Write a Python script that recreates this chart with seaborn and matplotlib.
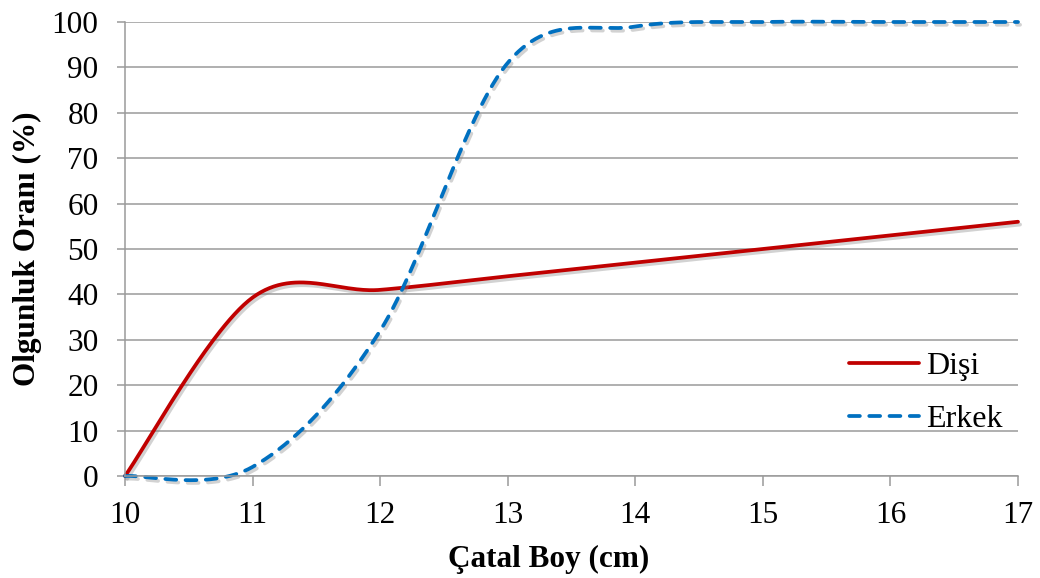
import numpy as np
import pandas as pd
import matplotlib
matplotlib.use("Agg")
import matplotlib.pyplot as plt
import matplotlib.patheffects as pe
import seaborn as sns

# ---- data ----
boy = [10, 11, 12, 13, 14, 15, 16, 17]
disi = [0, 39.3, 41, 44, 47, 50, 53, 56]
erkek = [0, 2.0, 32, 91, 99, 100, 100, 100]
series_names = ["Dişi", "Erkek"]
x_ticks = [10, 11, 12, 13, 14, 15, 16, 17]
y_ticks = [0, 10, 20, 30, 40, 50, 60, 70, 80, 90, 100]


def excel_smooth(x, y, n=60):
    """Excel-style smoothed line (Catmull-Rom Bezier through the points)."""
    p = np.column_stack([x, y]).astype(float)
    m = len(p)
    out = []
    for i in range(m - 1):
        p0 = p[i]
        p3 = p[i + 1]
        pm = p[i - 1] if i > 0 else p[i]
        pp = p[i + 2] if i + 2 < m else p[i + 1]
        c1 = p0 + (p3 - pm) / 6.0
        c2 = p3 - (pp - p0) / 6.0
        t = np.linspace(0, 1, n, endpoint=(i == m - 2))[:, None]
        b = ((1 - t) ** 3) * p0 + 3 * ((1 - t) ** 2) * t * c1 + 3 * (1 - t) * t ** 2 * c2 + t ** 3 * p3
        out.append(b)
    return np.vstack(out)


sns.set_theme(style="white")
plt.rcParams["font.family"] = ["Liberation Serif", "DejaVu Serif"]
plt.rcParams["text.color"] = "black"
plt.rcParams["axes.labelcolor"] = "black"

FS = 22.5
LW = 2.7
DASH = (2.9, 2.5)

fig = plt.figure(figsize=(10.4, 5.78), dpi=100)
ax = fig.add_axes([125 / 1040, 1 - 476 / 578, (1018 - 125) / 1040, (476 - 22) / 578])

colors = {"Dişi": "#C00000", "Erkek": "#0070C0"}
shadow = [pe.SimpleLineShadow(offset=(1.5, -2), shadow_color="#808080", alpha=0.35), pe.Normal()]

for name, vals in zip(series_names, [disi, erkek]):
    sm = excel_smooth(boy, vals)
    df = pd.DataFrame({"x": sm[:, 0], "y": sm[:, 1]})
    sns.lineplot(data=df, x="x", y="y", ax=ax, sort=False, estimator=None,
                 color=colors[name], linewidth=LW, label=name)
    ln = ax.lines[-1]
    ln.set_clip_on(False)
    ln.set_path_effects(shadow)
    if name == "Erkek":
        ln.set_dashes(DASH)
        ln.set_dash_capstyle("round")
    else:
        ln.set_solid_capstyle("round")

ax.set_xlim(10, 17)
ax.set_ylim(0, 100)
ax.set_xticks(x_ticks)
ax.set_yticks(y_ticks)
ax.set_xticklabels([str(v) for v in x_ticks])
ax.set_yticklabels([str(v) for v in y_ticks])

grid_c = "#9A9A9A"
ax.yaxis.grid(True, color=grid_c, linewidth=1.1)
ax.xaxis.grid(False)
ax.set_axisbelow(True)
for s in ["top", "right"]:
    ax.spines[s].set_visible(False)
for s in ["left", "bottom"]:
    ax.spines[s].set_color(grid_c)
    ax.spines[s].set_linewidth(1.1)

ax.tick_params(axis="y", direction="out", length=6, width=1.1, color=grid_c,
               labelsize=FS, labelcolor="black", pad=13, left=True)
ax.tick_params(axis="x", direction="out", length=7, width=1.1, color=grid_c,
               labelsize=FS, labelcolor="black", pad=11, bottom=True)

ax.set_xlabel("Çatal Boy (cm)", fontsize=FS, fontweight="bold")
ax.set_ylabel("Olgunluk Oranı (%)", fontsize=FS, fontweight="bold")
ax.xaxis.label.set_va("center")
ax.yaxis.label.set_va("center")
ax.xaxis.set_label_coords((549 - 125) / 893, (476 - 559) / 454)
ax.yaxis.set_label_coords((27 - 125) / 893, 0.5)

leg = ax.legend(loc="center left", bbox_to_anchor=((849 - 125) / 893, (476 - 393) / 454),
                frameon=False, fontsize=23, handlelength=2.2, handletextpad=0.2,
                labelspacing=0.75, borderpad=0, borderaxespad=0)
for h, name in zip(leg.get_lines(), series_names):
    h.set_linewidth(LW)
    h.set_path_effects([])
    if name == "Erkek":
        h.set_dashes(DASH)
        h.set_dash_capstyle("round")
    else:
        h.set_solid_capstyle("round")

fig.savefig("out.png", dpi=100)
